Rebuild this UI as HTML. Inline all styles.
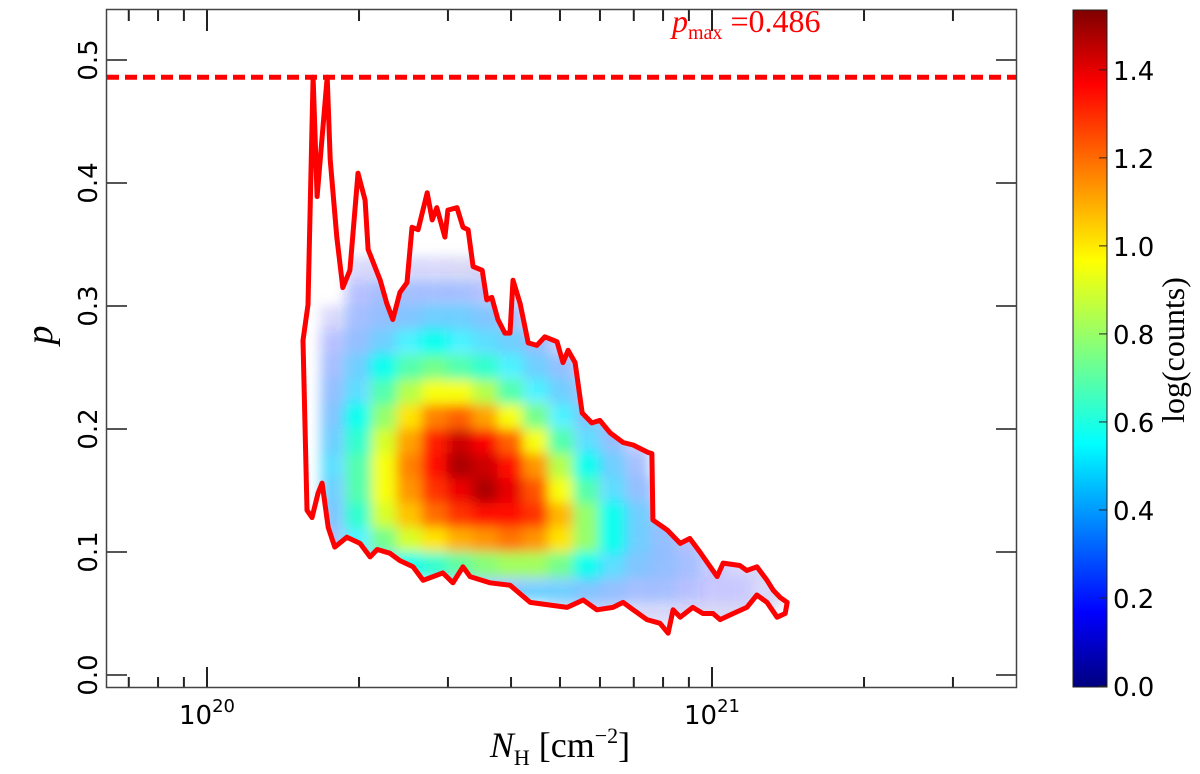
<!DOCTYPE html>
<html><head><meta charset="utf-8">
<style>
body{margin:0;background:#fff;}
svg{display:block;}
.tick{font-family:"DejaVu Sans","Liberation Sans",sans-serif;font-size:26px;fill:#000;}
.serif{font-family:"Liberation Serif","DejaVu Serif",serif;}
</style></head>
<body>
<svg id="chart" width="1200" height="774" viewBox="0 0 1200 774" xmlns="http://www.w3.org/2000/svg">
<defs>
<filter id="blur" x="-10%" y="-10%" width="120%" height="120%"><feGaussianBlur stdDeviation="6"/></filter>
<clipPath id="contourClip"><path id="clipPathShape"/></clipPath>
<linearGradient id="jetGrad" x1="0" y1="1" x2="0" y2="0">
<stop offset="0" stop-color="#00007f"/><stop offset="0.11" stop-color="#0000ff"/>
<stop offset="0.36" stop-color="#00ffff"/><stop offset="0.63" stop-color="#ffff00"/>
<stop offset="0.89" stop-color="#ff0000"/><stop offset="1" stop-color="#7f0000"/>
</linearGradient>
</defs>
<rect x="0" y="0" width="1200" height="774" fill="#fff"/>
<g id="heat" clip-path="url(#contourClip)"><g id="heatCells" filter="url(#blur)"></g></g>
<path id="contour" fill="none" stroke="#ff0000" stroke-width="5" stroke-linejoin="round"/>
<line id="pmaxLine" x1="107" x2="1016" stroke="#ff0000" stroke-width="5" stroke-dasharray="12,6"/>
<text class="serif" x="672" y="32" fill="#ff0000" font-size="32"><tspan font-style="italic">p</tspan><tspan font-size="20" dy="7">max</tspan><tspan dy="-7"> =0.486</tspan></text>
<g id="axes"></g>
<rect x="106.5" y="9.5" width="910" height="678" fill="none" stroke="#444" stroke-width="1.5"/>
<text class="serif" font-style="italic" font-size="38" transform="translate(52,335) rotate(-90)" text-anchor="middle">p</text>
<text class="serif" font-size="36" x="560" y="757" text-anchor="middle"><tspan font-style="italic">N</tspan><tspan font-size="22" dy="8">H</tspan><tspan dy="-8"> [cm</tspan><tspan font-size="22" dy="-14">−2</tspan><tspan dy="14">]</tspan></text>
<rect x="1073" y="10" width="34" height="677" fill="url(#jetGrad)" stroke="#222" stroke-width="1"/>
<g id="cbar"></g>
<text class="serif" font-size="32" transform="translate(1184,350) rotate(-90)" text-anchor="middle">log(counts)</text>
</svg>
<script>
// ---- data ----
const contourLogN = [20.198,20.190,20.200,20.210,20.218,20.238,20.244,20.257,20.269,20.283,20.299,20.313,20.319,20.343,20.356,20.368,20.382,20.396,20.406,20.418,20.436,20.446,20.455,20.471,20.477,20.495,20.507,20.517,20.527,20.545,20.554,20.564,20.576,20.590,20.600,20.606,20.620,20.636,20.653,20.669,20.693,20.705,20.715,20.729,20.743,20.762,20.778,20.798,20.824,20.844,20.873,20.881,20.883,20.911,20.937,20.956,20.976,21.010,21.022,21.055,21.069,21.089,21.109,21.121,21.135,21.149,21.145,21.129,21.109,21.089,21.069,21.042,21.016,21.002,20.982,20.962,20.937,20.923,20.913,20.897,20.871,20.844,20.824,20.804,20.772,20.745,20.713,20.640,20.600,20.560,20.521,20.507,20.487,20.467,20.448,20.428,20.408,20.382,20.362,20.337,20.323,20.303,20.277,20.253,20.240,20.228,20.220,20.208];
const contourP = [0.134,0.272,0.301,0.486,0.389,0.486,0.419,0.356,0.315,0.329,0.408,0.386,0.346,0.321,0.302,0.289,0.311,0.319,0.364,0.362,0.392,0.370,0.380,0.356,0.378,0.380,0.364,0.362,0.332,0.329,0.305,0.307,0.289,0.278,0.278,0.321,0.302,0.270,0.268,0.275,0.271,0.254,0.264,0.254,0.213,0.205,0.207,0.197,0.189,0.187,0.181,0.180,0.126,0.118,0.107,0.111,0.100,0.080,0.091,0.089,0.085,0.088,0.077,0.069,0.063,0.059,0.050,0.047,0.059,0.065,0.055,0.050,0.045,0.050,0.050,0.055,0.047,0.053,0.034,0.042,0.045,0.053,0.059,0.055,0.053,0.061,0.055,0.059,0.073,0.075,0.080,0.088,0.075,0.083,0.080,0.077,0.088,0.093,0.099,0.102,0.096,0.107,0.112,0.104,0.120,0.156,0.148,0.128];
const pMax = 0.486;
const binLogN = [20.25,20.30,20.35,20.40,20.45,20.50,20.55,20.60,20.65,20.70,20.75,20.80,20.85,20.90,20.95,21.00,21.05,21.10,21.15];
const binP = [0.33,0.31,0.29,0.27,0.25,0.23,0.21,0.19,0.17,0.15,0.13,0.11,0.09,0.07,0.05];
const logCounts = [
[0,0.15,0.15,0.15,0.15,0.1,0.1,0,0,0,0,0,0,0,0,0,0,0,0],
[0,0.25,0.3,0.3,0.3,0.3,0.25,0.15,0,0,0,0,0,0,0,0,0,0,0],
[0.15,0.3,0.35,0.4,0.45,0.45,0.4,0.3,0.15,0,0,0,0,0,0,0,0,0,0],
[0.25,0.35,0.45,0.55,0.6,0.55,0.5,0.45,0.35,0.2,0,0,0,0,0,0,0,0,0],
[0.3,0.45,0.6,0.7,0.75,0.7,0.65,0.55,0.45,0.35,0.2,0,0,0,0,0,0,0,0],
[0.35,0.5,0.7,0.85,0.95,0.95,0.85,0.7,0.55,0.45,0.3,0.15,0,0,0,0,0,0,0],
[0.4,0.6,0.8,1.0,1.15,1.2,1.1,0.95,0.75,0.55,0.4,0.3,0,0,0,0,0,0,0],
[0.45,0.65,0.9,1.1,1.3,1.42,1.35,1.2,0.95,0.7,0.5,0.35,0.2,0,0,0,0,0,0],
[0.5,0.7,0.95,1.15,1.33,1.47,1.42,1.33,1.12,0.85,0.6,0.45,0.3,0,0,0,0,0,0],
[0.45,0.7,0.95,1.12,1.27,1.37,1.47,1.38,1.22,0.95,0.7,0.5,0.35,0.2,0,0,0,0,0],
[0.4,0.65,0.9,1.05,1.18,1.27,1.33,1.33,1.27,1.07,0.8,0.6,0.45,0.3,0.2,0,0,0,0],
[0.3,0.55,0.75,0.9,1.0,1.08,1.12,1.17,1.12,1.0,0.8,0.6,0.45,0.35,0.25,0.1,0,0,0],
[0,0.3,0.5,0.6,0.65,0.72,0.78,0.82,0.82,0.75,0.6,0.5,0.4,0.35,0.3,0.2,0.15,0.1,0],
[0,0,0,0,0.2,0.3,0.35,0.4,0.45,0.45,0.4,0.35,0.3,0.3,0.25,0.2,0.2,0.15,0.1],
[0,0,0,0,0,0,0,0,0,0.15,0.2,0.2,0.15,0.15,0.1,0.1,0.1,0.1,0]
];
const yTickValues = [0.0,0.1,0.2,0.3,0.4,0.5];
const yTickLabels = ["0.0","0.1","0.2","0.3","0.4","0.5"];
const xMajorExp = [20,21];
const cbarTicks = [0.0,0.2,0.4,0.6,0.8,1.0,1.2,1.4];
const cbarTickLabels = ["0.0","0.2","0.4","0.6","0.8","1.0","1.2","1.4"];
const cbarMax = 1.536;

// ---- scales ----
const X0 = 207, DEC = 505, Y0 = 675, PU = 1230;
const xS = l => X0 + (l - 20) * DEC;
const yS = p => Y0 - p * PU;
const cbY = v => 686 - v / cbarMax * 676;
const NS = "http://www.w3.org/2000/svg";
function mk(tag, attrs, parent){const e=document.createElementNS(NS,tag);for(const k in attrs)e.setAttribute(k,attrs[k]);parent.appendChild(e);return e;}
function jet(t){t=Math.max(0,Math.min(1,t));
 const r=Math.max(0,Math.min(1,1.5-Math.abs(4*t-3))),g=Math.max(0,Math.min(1,1.5-Math.abs(4*t-2))),b=Math.max(0,Math.min(1,1.5-Math.abs(4*t-1)));
 return `rgb(${Math.round(r*255)},${Math.round(g*255)},${Math.round(b*255)})`;}

// contour
let d = contourLogN.map((l,i)=>(i?'L':'M')+xS(l).toFixed(1)+','+yS(contourP[i]).toFixed(1)).join(' ')+' Z';
document.getElementById('contour').setAttribute('d', d);
document.getElementById('clipPathShape').setAttribute('d', d);
const pl = document.getElementById('pmaxLine');
pl.setAttribute('y1', yS(pMax)); pl.setAttribute('y2', yS(pMax));

// heatmap
const hc = document.getElementById('heatCells');
const cw = DEC*0.05, ch = PU*0.02;
binP.forEach((p,r)=>binLogN.forEach((l,c)=>{
 const v = logCounts[r][c]; if(!v) return;
 const op = v < 0.6 ? Math.max(0.15, (v-0.05)*1.4) : 1;
 const rc = mk('rect',{x:xS(l)-cw/2,y:yS(p)-ch/2,width:cw+0.5,height:ch+0.5,fill:jet(v/cbarMax),'fill-opacity':op},hc);
 
 
}));

// axes
const ax = document.getElementById('axes');
yTickValues.forEach((v,i)=>{
 const y=yS(v);
 const t1=mk('line',{x1:107,x2:127,y1:y,y2:y,stroke:'#555','stroke-width':2},ax);
  
 const t2=mk('line',{x1:996,x2:1016,y1:y,y2:y,stroke:'#555','stroke-width':2},ax);
  
 const lb=mk('text',{class:'tick',transform:`translate(97,${y}) rotate(-90)`,'text-anchor':'middle'},ax);
 lb.textContent=yTickLabels[i];
  
});
for(let e=19;e<=21;e++){for(let m=1;m<=9;m++){
 const l=e+Math.log10(m); const x=xS(l); if(x<108||x>1015) continue;
 const len = m===1?21:11;
 const b=mk('line',{x1:x,x2:x,y1:688-len,y2:688,stroke:'#222','stroke-width':2},ax);
  
 const t=mk('line',{x1:x,x2:x,y1:10,y2:10+len,stroke:'#222','stroke-width':2},ax);
  
}}
xMajorExp.forEach(e=>{
 const lb=mk('text',{class:'tick',x:xS(e),y:724,'text-anchor':'middle'},ax);
  
 lb.innerHTML='10<tspan font-size="18" dy="-12">'+e+'</tspan>';
});
// colorbar
const cb=document.getElementById('cbar');
cbarTicks.forEach((v,i)=>{
 const y=cbY(v);
 const t=mk('line',{x1:1099,x2:1107,y1:y,y2:y,stroke:'#222','stroke-width':1},cb);
  
 const lb=mk('text',{class:'tick',x:1113,y:y+10},cb);
 lb.textContent=cbarTickLabels[i];
  
});
</script>
</body></html>
